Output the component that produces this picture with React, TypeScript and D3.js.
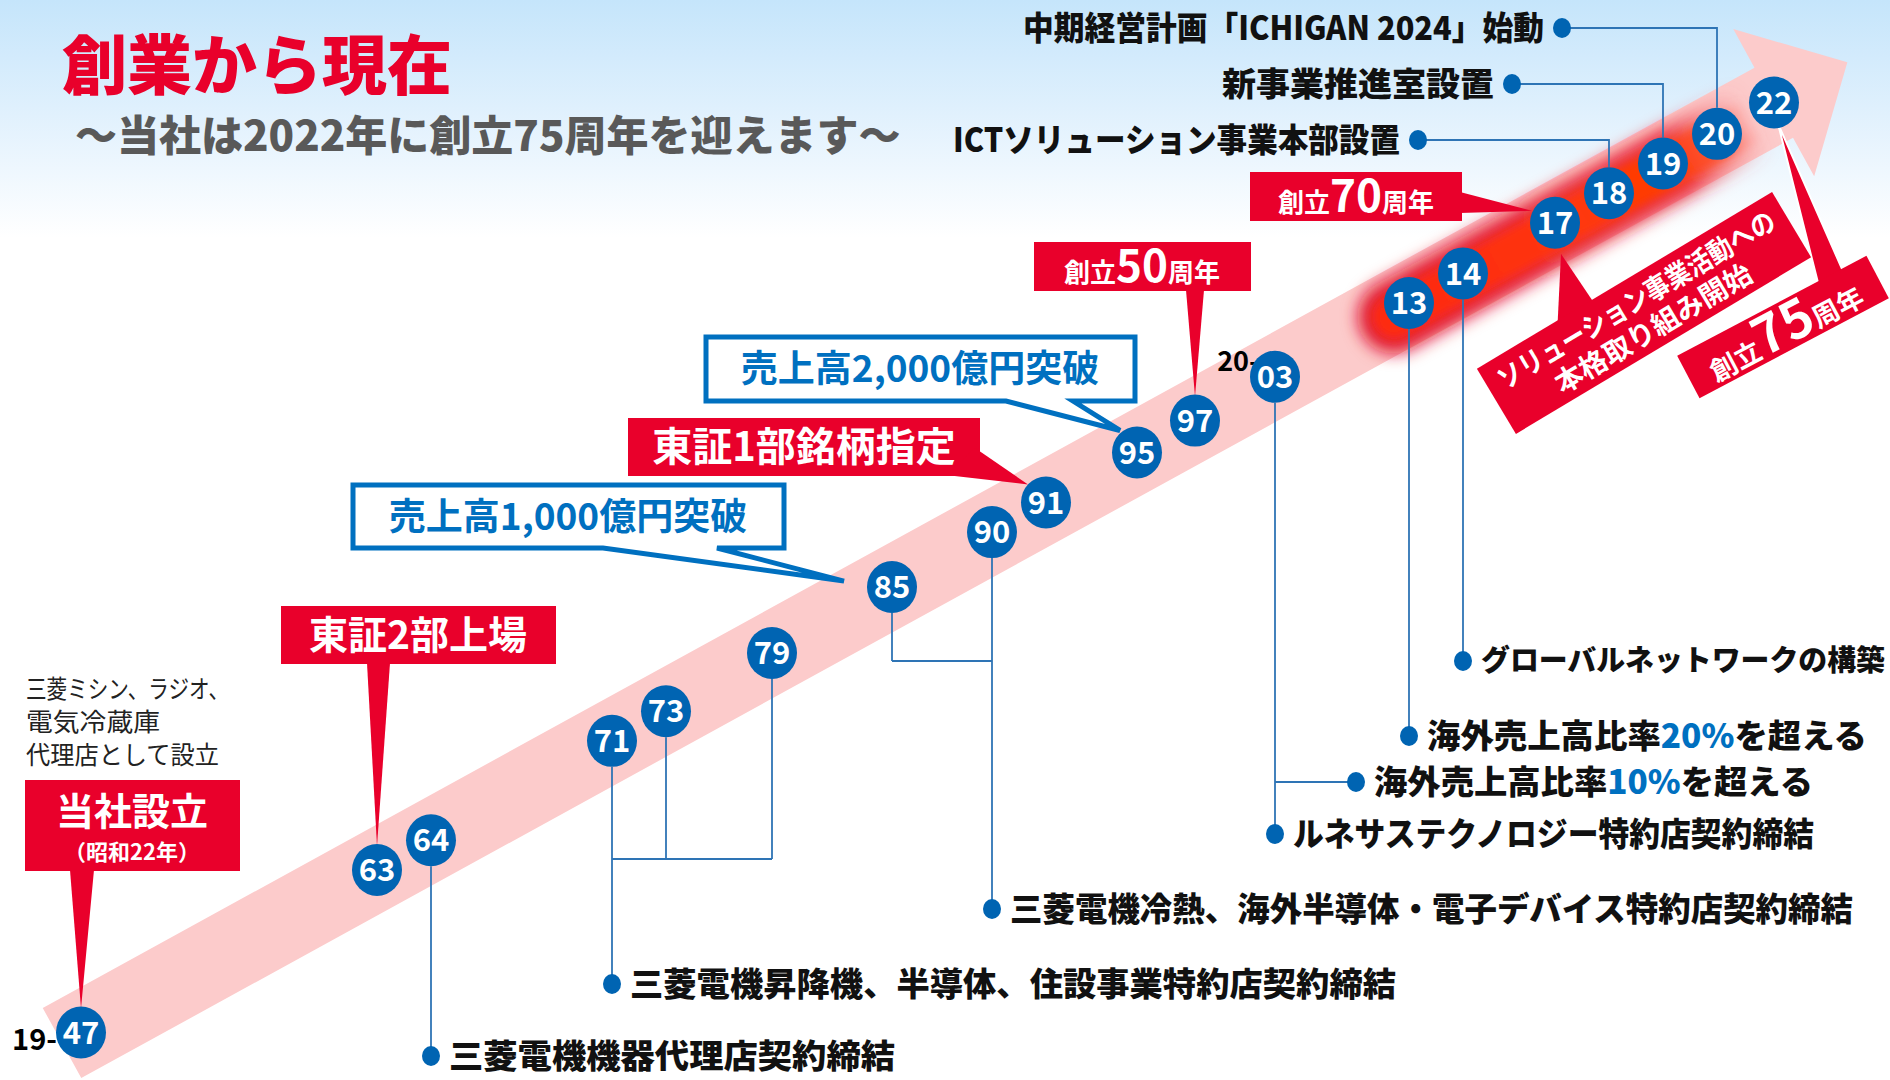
import React from 'react';
import * as d3 from 'd3';

const W = 1890;
const H = 1080;
const FONT = '"Noto Sans CJK JP", "Noto Sans", sans-serif';

const RED = '#e9002b';
const BLUE = '#0064b2';
const TXT_BLUE = '#0070c0';
const LINE = '#2e74b5';
const PINK = '#fccbcb';

// ---- data ----
const title = '創業から現在';
const subtitle = '～当社は2022年に創立75周年を迎えます～';

const years = [1947, 1963, 1964, 1971, 1973, 1979, 1985, 1990, 1991, 1995, 1997, 2003, 2013, 2014, 2017, 2018, 2019, 2020, 2022];
// years where the (not to scale) timeline is pinned
const anchorYears = [1947, 1963, 1971, 1990, 1997, 2003, 2013, 2017, 2022];

const lowerEvents = [
  '三菱電機機器代理店契約締結',
  '三菱電機昇降機、半導体、住設事業特約店契約締結',
  '三菱電機冷熱、海外半導体・電子デバイス特約店契約締結',
  'ルネサステクノロジー特約店契約締結',
  '海外売上高比率|10%|を超える',
  '海外売上高比率|20%|を超える',
  'グローバルネットワークの構築',
];
const lowerEventYears = [1964, 1971, 1990, 2003, 2003, 2013, 2014];
const bracketGroups = [[1971, 1973, 1979], [1985, 1990]];

const upperEvents = ['ICTソリューション事業本部設置', '新事業推進室設置', '中期経営計画「ICHIGAN 2024」始動'];
const upperEventYears = [2018, 2019, 2020];

const foundingNote = ['三菱ミシン、ラジオ、', '電気冷蔵庫', '代理店として設立'];
const foundingLabel = ['当社設立', '（昭和22年）'];
const milestoneLabels = ['東証2部上場', '売上高1,000億円突破', '東証1部銘柄指定', '売上高2,000億円突破', '創立|50|周年', '創立|70|周年', '創立|75|周年'];
const solutionLabel = ['ソリューション事業活動への', '本格取り組み開始'];

// ---- layout ----
const anchorX = [81, 377, 612, 992, 1195, 1275, 1409, 1555, 1774];
const minGap = 54;
const lowerDotY = [1056, 984, 909, 834, 782, 736, 661];
const lowerDotDx = [0, 0, 0, 0, 81, 0, 0];
const lowerTextW = [446, 766, 843, 521, 439, 440, 404];
const lowerSize = [33, 33, 33, 33, 33, 33, 29];
const bracketY = [859, 661];
const upperDots = [[1418, 140], [1512, 84], [1562, 28]];
const upperTextW = [447, 272, 521];
const noteW = [203, 134, 193];

// band geometry
const TAIL = [62, 1043];
const ANG = Math.atan2(-941, 1713);
const DX = Math.cos(ANG), DY = Math.sin(ANG);
const NX = -DY, NY = DX;
const HALF = 40, SHAFT = 1953, HEAD_HALF = 84, HEAD_LEN = 84;
const pt = (u: number, v: number): [number, number] => [TAIL[0] + u * DX + v * NX, TAIL[1] + u * DY + v * NY];
const onBand = (x: number) => pt((x - TAIL[0]) / DX, 0);

const xBase = d3.scaleLinear().domain(anchorYears).range(anchorX);
const xs: number[] = [];
years.forEach((yr, i) => {
  const x = xBase(yr);
  xs.push(i ? Math.max(x, xs[i - 1] + minGap) : x);
});
const pos = new Map(years.map((yr, i) => [yr, onBand(xs[i])]));
const P = (yr: number) => pos.get(yr) as [number, number];

const R_X = 25, R_Y = 26;
const base = (cy: number, size: number) => cy + size * 0.36;
const pts = (a: number[][]) => a.map(p => p.join(',')).join(' ');

const rotPoint = (cx: number, cy: number, ang: number, lx: number, ly: number) => {
  const a = (ang * Math.PI) / 180;
  return [cx + lx * Math.cos(a) - ly * Math.sin(a), cy + lx * Math.sin(a) + ly * Math.cos(a)];
};

const Parts = ({ text, alt }: { text: string; alt: (i: number) => any }) => (
  <>
    {text.split('|').map((s, i) => (
      <tspan key={i} {...(i % 2 ? alt(i) : {})}>{s}</tspan>
    ))}
  </>
);

const EventLabel = ({ x, y, text, width, anchor, size = 33 }: any) => (
  <text x={x} y={base(y, size)} fontSize={size} fontWeight={900} fill="#111" textAnchor={anchor}
    textLength={width} lengthAdjust="spacingAndGlyphs">
    <Parts text={text} alt={() => ({ fill: TXT_BLUE })} />
  </text>
);

const Anniv = ({ x, y, text, small, big }: any) => (
  <text x={x} y={y} fontSize={small} fontWeight={700} fill="#fff" textAnchor="middle">
    <Parts text={text} alt={() => ({ fontSize: big })} />
  </text>
);

export default function App() {
  const band = [pt(0, -HALF), pt(SHAFT, -HALF), pt(SHAFT, -HEAD_HALF), pt(SHAFT + HEAD_LEN, 0),
    pt(SHAFT, HEAD_HALF), pt(SHAFT, HALF), pt(0, HALF)];
  const g0 = onBand(1392), g1 = onBand(1752);
  const glow = [[g0[0] + NX * 5, g0[1] + NY * 5], [g1[0] + NX * 5, g1[1] + NY * 5]];
  const glowPath = d3.line()(glow as any) as string;

  const [p47, p63, p85, p91, p95, p97, p17, p22, p03] =
    [1947, 1963, 1985, 1991, 1995, 1997, 2017, 2022, 2003].map(P);

  // rotated boxes
  const sol = { cx: 1644, cy: 313, w: 344, h: 76, a: -30.9 };
  const solA = rotPoint(sol.cx, sol.cy, sol.a, -sol.w / 2 + sol.w * 0.27, -sol.h / 2 + 2);
  const solB = rotPoint(sol.cx, sol.cy, sol.a, -sol.w / 2 + sol.w * 0.39, -sol.h / 2 + 2);
  const a75 = { cx: 1783, cy: 327, w: 214, h: 48, a: -27.8 };
  const a75A = rotPoint(a75.cx, a75.cy, a75.a, -a75.w / 2 + a75.w * 0.74, -a75.h / 2 + 2);
  const a75B = rotPoint(a75.cx, a75.cy, a75.a, -a75.w / 2 + a75.w * 0.87, -a75.h / 2 + 2);

  const callout = (x0: number, y0: number, x1: number, y1: number, b0: number, b1: number, tip: number[]) =>
    `M${x0},${y0}H${x1}V${y1}H${b1}L${tip[0]},${tip[1]}L${b0},${y1}H${x0}Z`;

  return (
    <svg width={W} height={H} style={{ position: 'absolute', left: 0, top: 0, fontFamily: FONT }}>
      <defs>
        <linearGradient id="sky" x1="0" y1="0" x2="0" y2={H} gradientUnits="userSpaceOnUse">
          <stop offset="0" stopColor="#c5e5fb" />
          <stop offset="0.1" stopColor="#dff0fd" />
          <stop offset="0.22" stopColor="#ffffff" />
        </linearGradient>
        <linearGradient id="glowGrad" gradientUnits="userSpaceOnUse"
          x1={glow[0][0]} y1={glow[0][1]} x2={glow[1][0]} y2={glow[1][1]}>
          <stop offset="0" stopColor="#ff2a10" stopOpacity="0.95" />
          <stop offset="0.72" stopColor="#ff3c05" stopOpacity="1" />
          <stop offset="0.9" stopColor="#ff4a20" stopOpacity="0.75" />
          <stop offset="1" stopColor="#ff8080" stopOpacity="0" />
        </linearGradient>
        <linearGradient id="glowOuter" gradientUnits="userSpaceOnUse"
          x1={glow[0][0]} y1={glow[0][1]} x2={glow[1][0]} y2={glow[1][1]}>
          <stop offset="0" stopColor="#e0102a" stopOpacity="0.9" />
          <stop offset="0.78" stopColor="#e8182a" stopOpacity="0.85" />
          <stop offset="1" stopColor="#f06060" stopOpacity="0" />
        </linearGradient>
        <filter id="blur" x="-20%" y="-50%" width="140%" height="200%">
          <feGaussianBlur stdDeviation="8" />
        </filter>
        <filter id="blur2" x="-20%" y="-50%" width="140%" height="200%">
          <feGaussianBlur stdDeviation="5" />
        </filter>
      </defs>

      <rect width={W} height={H} fill="url(#sky)" />

      <polygon points={pts(band)} fill={PINK} />
      <path d={glowPath} stroke="url(#glowOuter)" strokeWidth={74} strokeLinecap="round" filter="url(#blur)" />
      <path d={glowPath} stroke="url(#glowGrad)" strokeWidth={44} strokeLinecap="round" filter="url(#blur2)" />

      {/* title */}
      <text x={62} y={89} fontSize={65} fontWeight={900} fill={RED}>{title}</text>
      <text x={75} y={151} fontSize={42} fontWeight={900} fill="#595959">{subtitle}</text>

      {/* connectors */}
      <g stroke={LINE} strokeWidth={1.8} fill="none">
        {lowerEventYears.map((yr, i) => {
          const p = P(yr);
          return lowerDotDx[i] === 0
            ? <line key={i} x1={p[0]} y1={p[1] + R_Y} x2={p[0]} y2={lowerDotY[i]} />
            : <line key={i} x1={p[0]} y1={lowerDotY[i]} x2={p[0] + lowerDotDx[i]} y2={lowerDotY[i]} />;
        })}
        {bracketGroups.map((grp, gi) => {
          const gx = grp.map(yr => P(yr)[0]);
          return (
            <g key={gi}>
              <line x1={d3.min(gx)} x2={d3.max(gx)} y1={bracketY[gi]} y2={bracketY[gi]} />
              {grp.filter(yr => !lowerEventYears.includes(yr)).map(yr => (
                <line key={yr} x1={P(yr)[0]} x2={P(yr)[0]} y1={P(yr)[1] + R_Y} y2={bracketY[gi]} />
              ))}
            </g>
          );
        })}
        {upperEventYears.map((yr, i) => {
          const p = P(yr);
          const [dx, dy] = upperDots[i];
          return <polyline key={i} points={pts([[dx, dy], [p[0], dy], [p[0], p[1] - R_Y]])} />;
        })}
      </g>

      {/* event labels */}
      {lowerEvents.map((t, i) => {
        const x = P(lowerEventYears[i])[0] + lowerDotDx[i];
        return (
          <g key={i}>
            <ellipse cx={x} cy={lowerDotY[i]} rx={9} ry={10} fill={BLUE} />
            <EventLabel x={x + 18} y={lowerDotY[i]} text={t} width={lowerTextW[i]} anchor="start" size={lowerSize[i]} />
          </g>
        );
      })}
      {upperEvents.map((t, i) => {
        const [dx, dy] = upperDots[i];
        return (
          <g key={i}>
            <ellipse cx={dx} cy={dy} rx={9} ry={10} fill={BLUE} />
            <EventLabel x={dx - 18} y={dy} text={t} width={upperTextW[i]} anchor="end" />
          </g>
        );
      })}

      {/* founding note */}
      {foundingNote.map((t, i) => (
        <text key={i} x={26} y={base(689 + i * 33, 25)} fontSize={25} fill="#222"
          textLength={noteW[i]} lengthAdjust="spacingAndGlyphs">{t}</text>
      ))}

      {/* century prefixes */}
      <text x={p47[0] - 24} y={p47[1] + 17} fontSize={29} fontWeight={700} textAnchor="end" fill="#000">19-</text>
      <text x={p03[0] - 16} y={p03[1] - 6} fontSize={27} fontWeight={700} textAnchor="end" fill="#000">20-</text>

      {/* callouts */}
      <g fill={RED}>
        <rect x={25} y={780} width={215} height={91} />
        <polygon points={pts([[70, 870], [94, 870], [p47[0], p47[1] - R_Y + 2]])} />
        <rect x={281} y={606} width={275} height={58} />
        <polygon points={pts([[367, 663], [390, 663], [p63[0], p63[1] - R_Y + 2]])} />
        <rect x={628} y={418} width={352} height={58} />
        <polygon points={pts([[975, 448], [p91[0] - 18, p91[1] - 18], [946, 475]])} />
        <rect x={1034} y={242} width={217} height={49} />
        <polygon points={pts([[1186, 290], [1204, 290], [p97[0], p97[1] - R_Y + 2]])} />
        <rect x={1250} y={172} width={212} height={49} />
        <polygon points={pts([[1460, 192], [p17[0] - 23, p17[1] - 12], [1460, 213]])} />
        <polygon points={pts([solA, [p17[0] + 6, p17[1] + 31], solB])} />
        <polygon points={pts([a75A, [p22[0] + 4, p22[1] + 21], a75B])} stroke="#fff" strokeWidth={2} />
      </g>
      <g fill="#fff" stroke={TXT_BLUE} strokeWidth={5} strokeLinejoin="miter">
        <path d={callout(353, 485, 784, 548, 603, 717, [p85[0] - 48, p85[1] - 6])} />
        <path d={callout(706, 337, 1135, 401, 1006, 1073, [p95[0] - 17, p95[1] - 22])} />
      </g>

      <g fontWeight={700} textAnchor="middle">
        <text x={132} y={base(811, 38)} fontSize={38} fill="#fff">{foundingLabel[0]}</text>
        <text x={132} y={base(852, 22)} fontSize={22} fill="#fff">{foundingLabel[1]}</text>
        <text x={418} y={base(635, 39)} fontSize={39} fill="#fff">{milestoneLabels[0]}</text>
        <text x={568} y={base(517, 37)} fontSize={37} fill={TXT_BLUE}>{milestoneLabels[1]}</text>
        <text x={804} y={base(447, 40)} fontSize={40} fill="#fff">{milestoneLabels[2]}</text>
        <text x={920} y={base(369, 37)} fontSize={37} fill={TXT_BLUE}>{milestoneLabels[3]}</text>
      </g>
      <Anniv x={1142} y={282} text={milestoneLabels[4]} small={26} big={44} />
      <Anniv x={1356} y={212} text={milestoneLabels[5]} small={26} big={44} />

      <g transform={`translate(${sol.cx},${sol.cy}) rotate(${sol.a})`}>
        <rect x={-sol.w / 2} y={-sol.h / 2} width={sol.w} height={sol.h} fill={RED} />
        <text x={0} y={base(-15, 28)} fontSize={28} fontWeight={700} fill="#fff" textAnchor="middle"
          textLength={318} lengthAdjust="spacingAndGlyphs">{solutionLabel[0]}</text>
        <text x={0} y={base(18, 28)} fontSize={28} fontWeight={700} fill="#fff" textAnchor="middle">{solutionLabel[1]}</text>
      </g>
      <g transform={`translate(${a75.cx},${a75.cy}) rotate(${a75.a})`}>
        <rect x={-a75.w / 2} y={-a75.h / 2} width={a75.w} height={a75.h} fill={RED} />
        <Anniv x={0} y={18} text={milestoneLabels[6]} small={27} big={52} />
      </g>

      {/* year markers */}
      {years.map(yr => {
        const [cx, cy] = P(yr);
        return (
          <g key={yr}>
            <ellipse cx={cx} cy={cy} rx={R_X} ry={R_Y} fill={BLUE} />
            <text x={cx} y={base(cy, 31)} fontSize={31} fontWeight={700} fill="#fff" textAnchor="middle">
              {String(yr).slice(2)}
            </text>
          </g>
        );
      })}
    </svg>
  );
}
